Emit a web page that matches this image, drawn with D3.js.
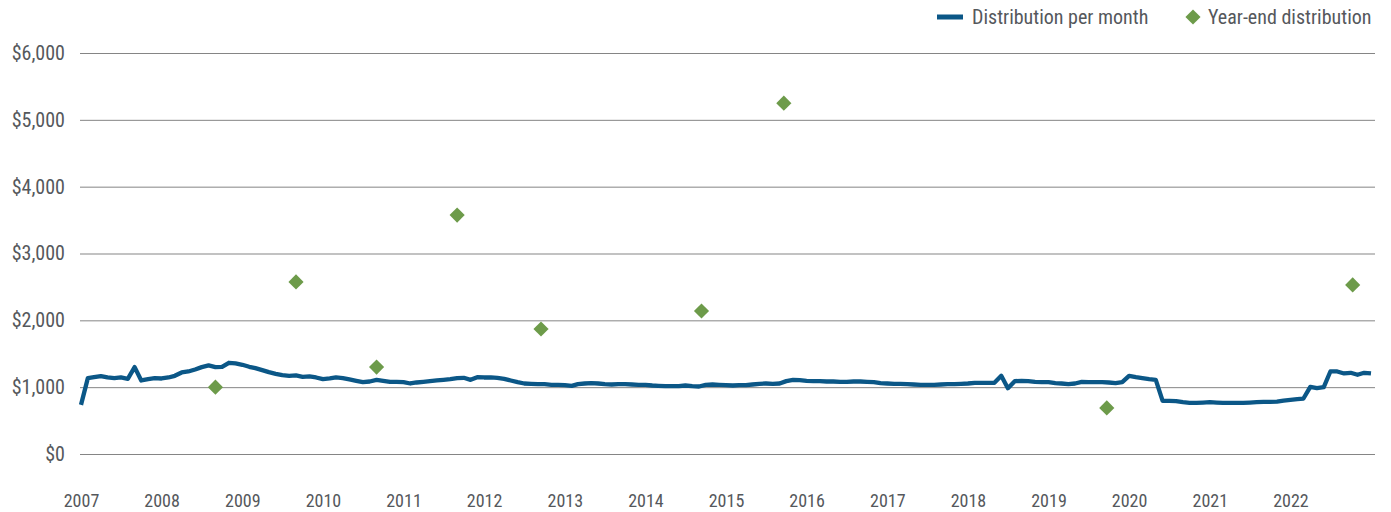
<!DOCTYPE html>
<html>
<head>
<meta charset="utf-8">
<script src="https://cdn.jsdelivr.net/npm/d3@7"></script>
<style>
  body { margin: 0; background: #fff; }
  svg text { font-family: "Roboto Condensed", "Liberation Sans Narrow", "Arial Narrow", sans-serif; fill: #55585c; }
</style>
</head>
<body>
<svg id="chart" width="1391" height="512"></svg>
<script>
// monthly distribution, Jan 2007 .. Jan 2023
var startMonth = '2007-01';
var monthly = [
  735, 1135, 1150, 1165, 1145, 1135, 1145, 1125, 1300, 1100, 1120, 1135,
  1130, 1145, 1170, 1220, 1235, 1265, 1300, 1325, 1300, 1305, 1365, 1355,
  1335, 1305, 1285, 1255, 1225, 1200, 1180, 1170, 1175, 1155, 1160, 1145,
  1120, 1130, 1145, 1135, 1115, 1095, 1075, 1085, 1110, 1095, 1080, 1080,
  1075, 1055, 1070, 1080, 1090, 1100, 1110, 1120, 1135, 1140, 1110, 1150,
  1145, 1145, 1140, 1125, 1100, 1075, 1055, 1050, 1045, 1045, 1035, 1035,
  1030, 1020, 1045, 1055, 1060, 1055, 1045, 1040, 1045, 1045, 1040, 1035,
  1035, 1025, 1020, 1015, 1015, 1015, 1025, 1015, 1010, 1035, 1040, 1035,
  1030, 1025, 1030, 1030, 1040, 1050, 1055, 1050, 1055, 1090, 1110, 1105,
  1095, 1090, 1090, 1085, 1085, 1080, 1080, 1085, 1085, 1080, 1075, 1060,
  1055, 1050, 1050, 1045, 1040, 1035, 1035, 1035, 1040, 1045, 1045, 1050,
  1055, 1065, 1065, 1065, 1065, 1170, 985, 1090, 1095, 1090, 1080, 1075,
  1075, 1060, 1055, 1045, 1055, 1080, 1075, 1075, 1075, 1070, 1060, 1075,
  1170, 1150, 1135, 1120, 1110, 795, 795, 790, 775, 765, 765, 770,
  775, 770, 765, 765, 765, 765, 770, 775, 780, 780, 785, 800,
  810, 820, 830, 1005, 985, 1000, 1235, 1235, 1205, 1215, 1185, 1215,
  1205
];

var yearEndDates = ['2008-09-01', '2009-09-01', '2010-09-01', '2011-09-01', '2012-09-15',
                    '2014-09-12', '2015-09-20', '2019-09-22', '2022-10-10'];
var yearEndValues = [1000, 2575, 1300, 3575, 1870, 2140, 5250, 690, 2530];

var years = d3.range(2007, 2023);
var yTicks = [0, 1000, 2000, 3000, 4000, 5000, 6000];

var parseMonth = d3.timeParse('%Y-%m');
var parseDay = d3.timeParse('%Y-%m-%d');
var t0 = parseMonth(startMonth);
var series = monthly.map(function(v, i){
  return { date: d3.timeMonth.offset(t0, i), value: v };
});
var yearEnd = yearEndDates.map(function(d, i){
  return { date: parseDay(d), value: yearEndValues[i] };
});

var svg = d3.select('#chart');
var plotLeft = 80, plotRight = 1375, plotTop = 53, plotBottom = 454;

var x = d3.scaleTime()
  .domain([t0, d3.timeMonth.offset(t0, monthly.length - 1)])
  .range([81, 1371]);
var y = d3.scaleLinear().domain([0, 6000]).range([plotBottom, plotTop]);

// gridlines + y labels
var yAxis = svg.append('g')
  .attr('transform', 'translate(' + plotLeft + ',0)')
  .call(d3.axisLeft(y).tickValues(yTicks)
    .tickSize(-(plotRight - plotLeft))
    .tickPadding(15)
    .tickFormat(function(d){ return '$' + d3.format(',')(d); }));
yAxis.select('.domain').remove();
yAxis.selectAll('line').attr('stroke', '#858585').attr('stroke-width', 1);
yAxis.selectAll('text').style('font-size', '20px').attr('fill', '#55585c');

// x labels
var xAxis = svg.append('g')
  .attr('transform', 'translate(0,' + (plotBottom + 37) + ')')
  .call(d3.axisBottom(x)
    .tickValues(years.map(function(yr){ return new Date(yr, 0, 1); }))
    .tickSize(0)
    .tickFormat(d3.timeFormat('%Y')));
xAxis.select('.domain').remove();
xAxis.selectAll('text').style('font-size', '18px').attr('fill', '#55585c');

// monthly line
var line = d3.line()
  .x(function(d){ return x(d.date); })
  .y(function(d){ return y(d.value); });

svg.append('path')
  .datum(series)
  .attr('d', line)
  .attr('fill', 'none')
  .attr('stroke', '#0b5787')
  .attr('stroke-width', 4.3)
  .attr('stroke-linejoin', 'round');

// year-end diamonds
var diamond = d3.symbol().type(d3.symbolSquare).size(115);
svg.selectAll('.ye')
  .data(yearEnd)
  .enter().append('path')
  .attr('class', 'ye')
  .attr('d', diamond)
  .attr('fill', '#6d9b4a')
  .attr('transform', function(d){
    return 'translate(' + x(d.date) + ',' + y(d.value) + ') rotate(45)';
  });

// legend
var lg = svg.append('g');
lg.append('line')
  .attr('x1', 937).attr('x2', 963).attr('y1', 17).attr('y2', 17)
  .attr('stroke', '#0b5787').attr('stroke-width', 5);
lg.append('text')
  .attr('x', 972).attr('y', 17).attr('dy', '0.35em')
  .style('font-size', '20px')
  .text('Distribution per month');
lg.append('path')
  .attr('d', diamond)
  .attr('fill', '#6d9b4a')
  .attr('transform', 'translate(1193,17) rotate(45)');
lg.append('text')
  .attr('x', 1208).attr('y', 17).attr('dy', '0.35em')
  .style('font-size', '20px')
  .text('Year-end distribution');
</script>
</body>
</html>
